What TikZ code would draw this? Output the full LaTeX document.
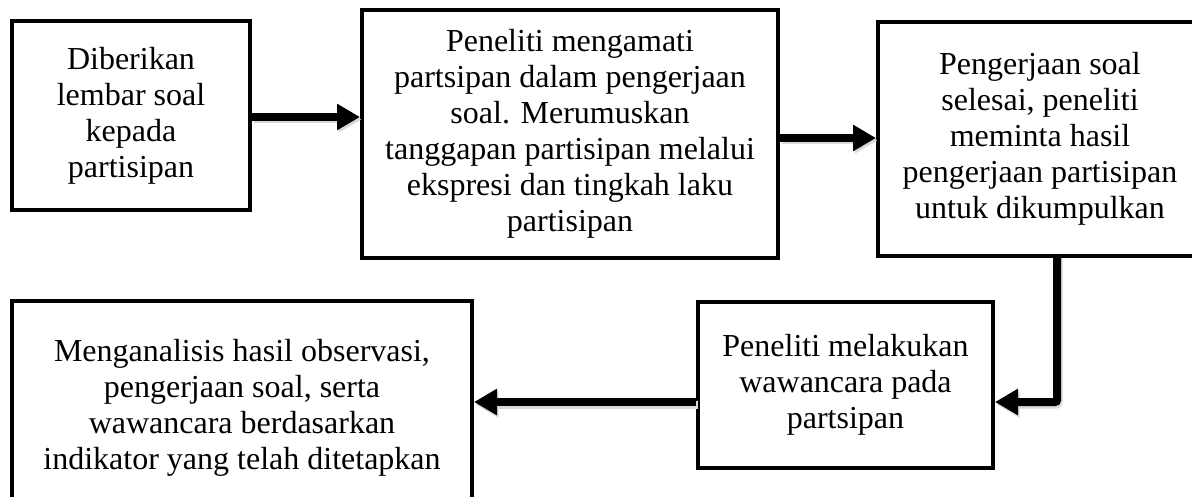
\documentclass[tikz,border=0pt]{standalone}
\usepackage{fontspec}
\setmainfont{Liberation Serif}
\usetikzlibrary{arrows.meta}
\begin{document}
\begin{tikzpicture}[x=1pt,y=-1pt,
  stepbox/.style={draw=black, line width=4pt, rectangle, fill=white, inner sep=0pt,
    align=center, font=\fontsize{32}{36}\selectfont},
  flow/.style={line width=8pt, -{Triangle[length=23pt,width=25pt]},
    preaction={draw=black!15, line width=8pt, -{Triangle[length=23pt,width=25pt]},
      transform canvas={shift={(1.5pt,-2.5pt)}}}}
]
\useasboundingbox (0,0) rectangle (1192,497);
\begin{scope}
\clip (0,0) rectangle (1192,497);
\node[stepbox, minimum width=238pt, minimum height=189pt] (b1) at (131,115.5)
  {Diberikan\\lembar soal\\kepada\\partisipan};
\node[stepbox, minimum width=416pt, minimum height=248pt] (b2) at (570,134)
  {Peneliti mengamati\\partsipan dalam pengerjaan\\soal. Merumuskan\\tanggapan partisipan melalui\\ekspresi dan tingkah laku\\partisipan};
\node[stepbox, minimum width=324pt, minimum height=234pt] (b3) at (1040,139)
  {Pengerjaan soal\\selesai, peneliti\\meminta hasil\\pengerjaan partisipan\\untuk dikumpulkan};
\node[stepbox, minimum width=295pt, minimum height=166pt] (b4) at (845.5,385)
  {Peneliti melakukan\\wawancara pada\\partsipan};
\node[stepbox, minimum width=460pt, minimum height=214pt] (b5) at (242,408)
  {Menganalisis hasil observasi,\\pengerjaan soal, serta\\wawancara berdasarkan\\indikator yang telah ditetapkan};

\coordinate (a1) at ([yshift=-1.5pt]b1.east);
\coordinate (a2) at ([yshift=-4pt]b2.east);
\coordinate (a3) at ([xshift=17pt,yshift=2pt]b3.south);
\coordinate (a4) at ([yshift=-17pt]b4.east);
\coordinate (a5) at ([yshift=-17pt]b4.west);

\draw[flow] (a1) -- (a1 -| b2.west);
\draw[flow] (a2) -- (a2 -| b3.west);
\draw[flow, rounded corners=2pt] (a3) |- (a4);
\draw[flow] (a5) -- (a5 -| b5.east);
\end{scope}
\end{tikzpicture}
\end{document}
